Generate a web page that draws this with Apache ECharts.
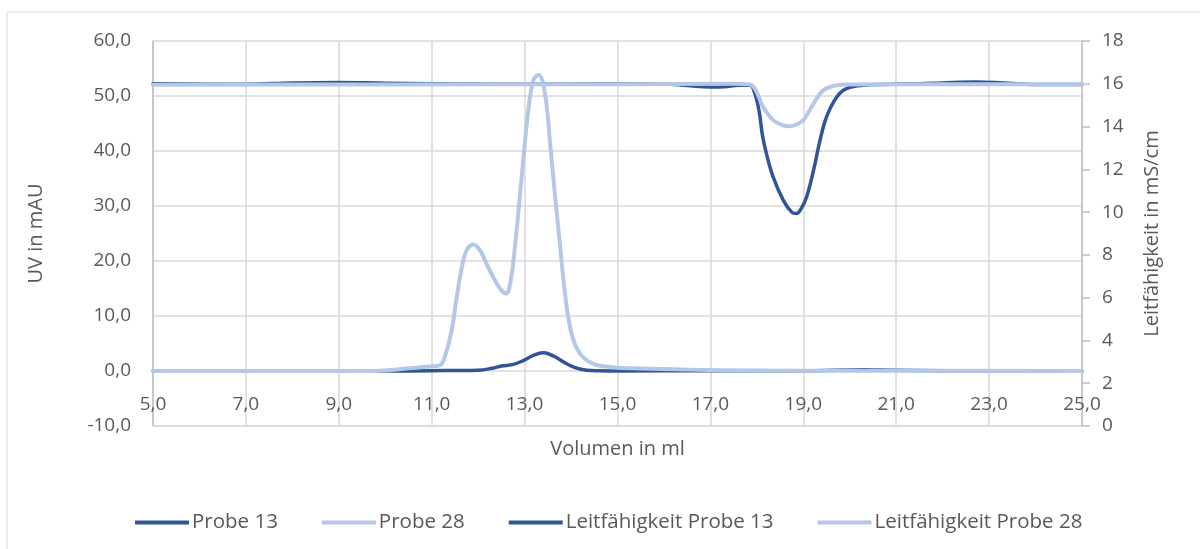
<!DOCTYPE html>
<html>
<head>
<meta charset="utf-8">
<script src="https://cdn.jsdelivr.net/npm/echarts@6/dist/echarts.min.js"></script>
<style>
  html, body { margin: 0; padding: 0; background: #fff; }
  #chart { width: 1200px; height: 549px; }
</style>
</head>
<body>
<div id="chart"></div>
<script>
// UV trace, Probe 13 (volume in ml / absorbance in mAU)
const volUV13 = [5.0, 8.0, 10.0, 11.0, 11.5, 12.0, 12.3, 12.5, 12.76, 12.97, 13.19, 13.4, 13.55, 13.69, 13.85, 13.98, 14.15, 14.34, 14.6, 15.0, 17.0, 19.0, 20.3, 21.0, 22.0, 25.0];
const uvProbe13 = [0.0, 0.0, 0.0, 0.05, 0.1, 0.15, 0.5, 0.9, 1.2, 1.9, 2.85, 3.3, 3.0, 2.4, 1.6, 1.0, 0.45, 0.15, 0.05, 0.0, 0.05, 0.05, 0.25, 0.15, 0.05, 0.0];

// UV trace, Probe 28
const volUV28 = [5.0, 9.5, 10.0, 10.5, 11.0, 11.18, 11.28, 11.43, 11.54, 11.65, 11.75, 11.9, 12.05, 12.18, 12.4, 12.52, 12.61, 12.68, 12.76, 12.87, 12.97, 13.08, 13.19, 13.3, 13.44, 13.55, 13.65, 13.76, 13.87, 14.01, 14.19, 14.48, 14.91, 15.5, 16.5, 18.0, 20.0, 25.0];
const uvProbe28 = [0.0, 0.0, 0.1, 0.5, 0.85, 1.05, 2.5, 7.4, 13.5, 18.9, 21.9, 23.0, 21.8, 19.5, 15.9, 14.5, 14.1, 15.5, 20.1, 29.2, 38.3, 47.4, 52.9, 53.8, 50.4, 41.3, 32.3, 23.2, 14.1, 6.8, 3.2, 1.3, 0.7, 0.45, 0.25, 0.1, 0.05, 0.0];

// Conductivity, Probe 13 (mS/cm)
const volLf13 = [5.0, 7.0, 8.0, 9.0, 10.0, 11.0, 13.0, 15.0, 16.0, 16.5, 17.0, 17.3, 17.6, 17.85, 17.95, 18.05, 18.12, 18.21, 18.35, 18.57, 18.75, 18.85, 18.95, 19.07, 19.22, 19.36, 19.5, 19.72, 19.93, 20.29, 20.7, 21.5, 22.0, 22.7, 23.3, 24.0, 25.0];
const lfProbe13 = [16.0, 15.98, 16.04, 16.06, 16.03, 16.0, 15.98, 16.0, 15.99, 15.92, 15.85, 15.86, 15.93, 15.93, 15.6, 14.7, 13.6, 12.7, 11.65, 10.55, 10.0, 9.93, 10.15, 10.7, 11.95, 13.35, 14.45, 15.38, 15.77, 15.93, 15.97, 16.0, 16.04, 16.08, 16.04, 15.97, 15.97];

// Conductivity, Probe 28 (mS/cm)
const volLf28 = [5.0, 10.0, 15.0, 17.5, 17.85, 17.95, 18.05, 18.14, 18.35, 18.55, 18.71, 18.85, 19.0, 19.12, 19.22, 19.43, 19.72, 20.0, 25.0];
const lfProbe28 = [15.95, 15.97, 15.98, 16.0, 15.97, 15.8, 15.35, 14.9, 14.3, 14.07, 14.01, 14.1, 14.3, 14.7, 15.07, 15.69, 15.93, 15.97, 15.98];

const seriesNames = ['Probe 13', 'Probe 28', 'Leitfähigkeit Probe 13', 'Leitfähigkeit Probe 28'];
const darkBlue = '#2F5597';
const lightBlue = '#B4C7E7';
const textGray = '#595959';
const FONT = '"Open Sans", "Noto Sans", sans-serif';

const zip = (xs, ys) => xs.map((x, i) => [x, ys[i]]);
const comma1 = v => v.toFixed(1).replace('.', ',');

const chart = echarts.init(document.getElementById('chart'), null, { renderer: 'canvas' });

function lineSeries(name, data, color, width, axis) {
  return {
    name: name,
    type: 'line',
    yAxisIndex: axis,
    data: data,
    showSymbol: false,
    symbol: 'none',
    smooth: 0.4,
    lineStyle: { color: color, width: width, cap: 'round', join: 'round' },
    itemStyle: { color: color },
    emphasis: { disabled: true },
    animation: false
  };
}

chart.setOption({
  animation: false,
  textStyle: { fontFamily: FONT, color: textGray },
  graphic: [{
    type: 'rect',
    shape: { x: 7, y: 12, width: 1220, height: 580 },
    style: { fill: 'none', stroke: '#D9D9D9', lineWidth: 1 },
    silent: true,
    z: -1
  }],
  grid: { left: 153, right: 118, top: 41, bottom: 123, containLabel: false },
  legend: {
    left: 130,
    top: 507,
    icon: 'rect',
    itemWidth: 54,
    itemHeight: 4,
    itemGap: 44,
    textStyle: { fontFamily: FONT, fontSize: 20.5, color: textGray, padding: [0, 0, 0, -2] },
    data: seriesNames
  },
  xAxis: {
    type: 'value',
    min: 5,
    max: 25,
    interval: 2,
    name: 'Volumen in ml',
    nameLocation: 'middle',
    nameGap: 13,
    nameMoveOverlap: false,
    nameTextStyle: { fontFamily: FONT, fontSize: 20, color: textGray },
    // the axis sits on the bottom edge; its labels are drawn inside, along the 0 mAU line
    axisLine: { show: true, onZero: false, lineStyle: { color: '#D9D9D9', width: 1.5 } },
    axisTick: { show: false },
    axisLabel: { formatter: comma1, fontSize: 19, color: textGray, inside: true, margin: 12, fontFamily: FONT },
    splitLine: { show: true, lineStyle: { color: '#D9D9D9', width: 1.5 } }
  },
  yAxis: [{
    type: 'value',
    min: -10,
    max: 60,
    interval: 10,
    name: 'UV in mAU',
    nameLocation: 'middle',
    nameGap: 107,
    nameTextStyle: { fontFamily: FONT, fontSize: 20, color: textGray },
    axisLine: { show: true, lineStyle: { color: '#BFBFBF', width: 1.5 } },
    axisTick: { show: false },
    axisLabel: { formatter: comma1, fontSize: 19, color: textGray, margin: 22, fontFamily: FONT },
    splitLine: { show: true, lineStyle: { color: '#D9D9D9', width: 1.5 } }
  }, {
    type: 'value',
    min: 0,
    max: 18,
    interval: 2,
    position: 'right',
    name: 'Leitfähigkeit in mS/cm',
    nameLocation: 'middle',
    nameGap: 60,
    nameTextStyle: { fontFamily: FONT, fontSize: 20, color: textGray },
    axisLine: { show: true, lineStyle: { color: '#BFBFBF', width: 1.5 } },
    axisTick: { show: true, inside: false, length: 8, lineStyle: { color: '#BFBFBF', width: 1.5 } },
    axisLabel: { fontSize: 19, color: textGray, margin: 20, fontFamily: FONT },
    splitLine: { show: false }
  }],
  series: [
    lineSeries(seriesNames[0], zip(volUV13, uvProbe13), darkBlue, 3.5, 0),
    lineSeries(seriesNames[1], zip(volUV28, uvProbe28), lightBlue, 4, 0),
    lineSeries(seriesNames[2], zip(volLf13, lfProbe13), darkBlue, 3.5, 1),
    lineSeries(seriesNames[3], zip(volLf28, lfProbe28), lightBlue, 4, 1)
  ]
});
</script>
</body>
</html>
